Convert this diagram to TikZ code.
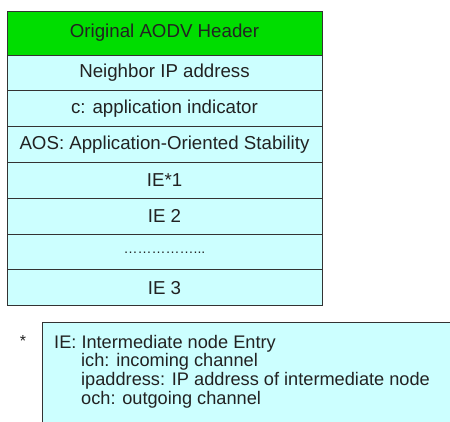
\documentclass[tikz,border=0pt]{standalone}
\usepackage{fontspec}
\setmainfont{Liberation Sans}
\usetikzlibrary{positioning}
\definecolor{HeadGreen}{HTML}{00DD00}
\definecolor{Pale}{HTML}{CCFFFF}
\definecolor{Edge}{HTML}{333333}
\definecolor{Ink}{HTML}{222222}

\begin{document}
\begin{tikzpicture}[x=1pt,y=-1pt,
  field/.style={draw=Edge,fill=Pale,line width=0.9pt,minimum width=315pt,minimum height=35.8pt,inner sep=0pt,outer sep=0pt,font=\fontsize{18.7}{20}\selectfont,text=Ink},
  header/.style={field,fill=HeadGreen,minimum height=44pt},
  legendtext/.style={align=left,inner sep=0pt,font=\fontsize{18.2}{18.6}\selectfont,text=Ink}
]
\clip (0,0) rectangle (450,422);
\fill[white] (0,0) rectangle (450,422);
\node[header,anchor=north west] (hdr) at (7,11) {Original AODV Header};
\node[field,below=0pt of hdr] (nip) {Neighbor IP address};
\node[field,below=0pt of nip] (cind) {c: application indicator};
\node[field,below=0pt of cind] (aos) {AOS: Application-Oriented Stability};
\node[field,below=0pt of aos] (ie1) {IE*1};
\node[field,below=0pt of ie1] (ie2) {IE 2};
\node[field,below=0pt of ie2] (dots) {\raisebox{-3pt}{\fontsize{14}{14}\selectfont\ldots\ldots\ldots\ldots\ldots...}};
\node[field,below=0pt of dots] (ie3) {IE 3};
% footnote box
\draw[draw=Edge,fill=Pale,line width=0.9pt] (42,322) rectangle (455,440);
\node[text=Ink,font=\fontsize{16}{16}\selectfont] (star) at (23,341) {*};
\node[legendtext,anchor=north west] (legend) at (54,335) {IE: Intermediate node Entry\\
\hspace{27pt}ich: incoming channel\\
\hspace{27pt}ipaddress: IP address of intermediate node\\
\hspace{27pt}och: outgoing channel};
\end{tikzpicture}
\end{document}
